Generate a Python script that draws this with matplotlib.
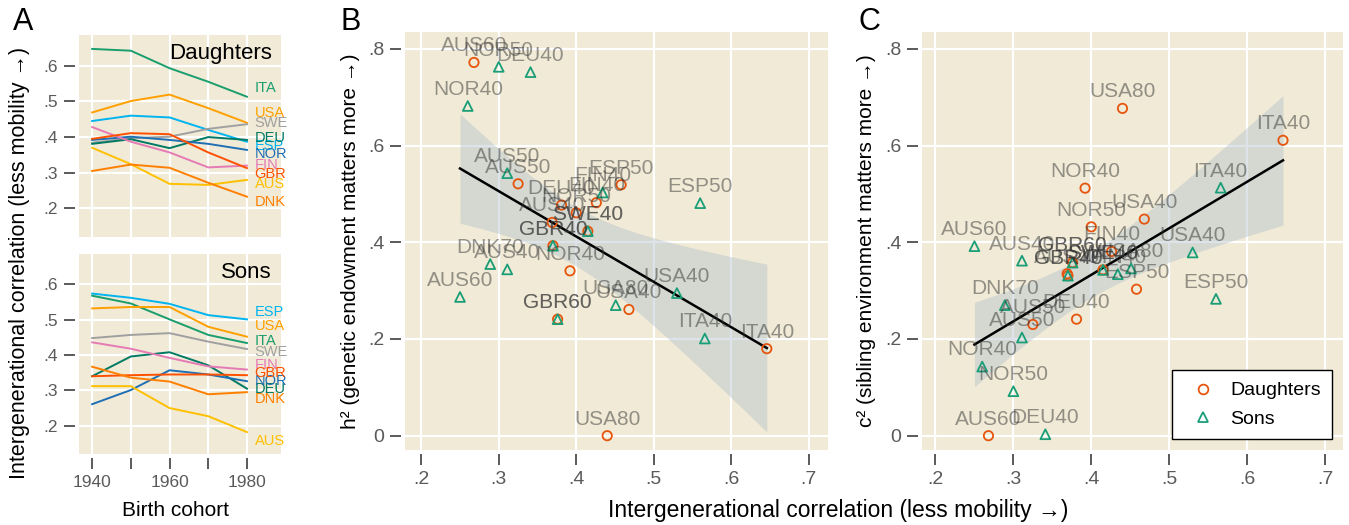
import numpy as np
import matplotlib
matplotlib.use("Agg")
import matplotlib.pyplot as plt
from matplotlib.lines import Line2D
from matplotlib.ticker import FuncFormatter

plt.rcParams['font.family'] = ['Liberation Sans', 'DejaVu Sans']

# ---------------- data ----------------
cohorts = [1940, 1950, 1960, 1970, 1980]
countries = ['ITA', 'USA', 'ESP', 'SWE', 'DEU', 'NOR', 'FIN', 'GBR', 'AUS', 'DNK']

# rows follow `countries`
rho_daughters = [
    [.647, .642, .593, .555, .513],   # ITA
    [.469, .501, .519, .481, .440],   # USA
    [.445, .460, .455, .420, .387],   # ESP
    [.384, .397, .401, .423, .436],   # SWE
    [.381, .394, .369, .400, .392],   # DEU
    [.392, .401, .392, .381, .364],   # NOR
    [.428, .387, .357, .315, .320],   # FIN
    [.395, .411, .408, .357, .313],   # GBR
    [.370, .324, .269, .266, .280],   # AUS
    [.305, .323, .314, .272, .233],   # DNK
]
rho_sons = [
    [.568, .546, .501, .457, .434],   # ITA
    [.532, .536, .536, .480, .452],   # USA
    [.574, .562, .545, .513, .501],   # ESP
    [.448, .457, .462, .438, .417],   # SWE
    [.340, .396, .408, .371, .305],   # DEU
    [.261, .301, .357, .345, .326],   # NOR
    [.436, .418, .392, .368, .359],   # FIN
    [.340, .343, .345, .345, .343],   # GBR
    [.312, .312, .250, .227, .182],   # AUS
    [.367, .336, .325, .289, .295],   # DNK
]

# panels B and C: daughters
d_names = ['AUS40', 'AUS50', 'AUS60', 'DEU40', 'ESP50', 'FIN40', 'GBR40',
           'GBR60', 'ITA40', 'NOR40', 'NOR50', 'SWE40', 'USA40', 'USA80']
d_rho = [.369, .325, .268, .381, .458, .426, .370, .376, .646, .392, .400, .415, .468, .440]
d_h2 = [.441, .521, .772, .477, .519, .482, .393, .241, .180, .341, .461, .423, .261, .000]
d_c2 = [.335, .230, .000, .241, .303, .381, .331, .358, .611, .512, .432, .343, .448, .677]

# panels B and C: sons
s_names = ['AUS40', 'AUS50', 'AUS60', 'DEU40', 'DNK70', 'ESP50', 'FIN40', 'GBR40',
           'GBR60', 'ITA40', 'NOR40', 'NOR50', 'SWE40', 'USA40', 'USA80']
s_rho = [.311, .311, .250, .341, .289, .560, .434, .370, .376, .566, .260, .300, .415, .530, .451]
s_h2 = [.344, .543, .287, .752, .355, .481, .503, .393, .241, .201, .682, .763, .423, .295, .270]
s_c2 = [.362, .203, .392, .003, .270, .283, .334, .331, .358, .513, .143, .092, .343, .379, .346]

# ---------------- style ----------------
BG = '#F0EAD6'
TICK = '#5a5a5a'
ORANGE = '#E6550D'
GREEN = '#1A9E77'
country_colors = {
    'ITA': '#1A9E6E', 'USA': '#FFA000', 'ESP': '#00B4F0', 'SWE': '#A0A0A0',
    'DEU': '#007A64', 'NOR': '#1F6FB4', 'FIN': '#E57AB4', 'GBR': '#FF5000',
    'AUS': '#FFC000', 'DNK': '#FF7F00',
}
# label heights at the right end of panel A (layout only)
lab_y_daughters = [.537, .467, .376, .440, .397, .352, .322, .297, .269, .218]
lab_y_sons = [.441, .483, .522, .410, .303, .326, .373, .348, .157, .275]


def dec_fmt(v, pos=None):
    if abs(v) < 1e-9:
        return '0'
    return ('%.1f' % v).lstrip('0')


def style_axes(ax, tick_size):
    ax.set_facecolor(BG)
    for s in ax.spines.values():
        s.set_visible(False)
    ax.spines['left'].set_position(('outward', 3))
    ax.spines['bottom'].set_position(('outward', 3))
    ax.grid(True, color='white', linewidth=1.6)
    ax.set_axisbelow(True)
    ax.tick_params(colors=TICK, labelcolor=TICK, length=8, width=1.4,
                   labelsize=tick_size, pad=4)


def fit_band(x, y, xs, t=2.052):
    x = np.asarray(x)
    y = np.asarray(y)
    n = len(x)
    b, a = np.polyfit(x, y, 1)
    resid = y - (a + b * x)
    s = np.sqrt(np.sum(resid ** 2) / (n - 2))
    xm = x.mean()
    se = s * np.sqrt(1.0 / n + (xs - xm) ** 2 / np.sum((x - xm) ** 2))
    pred = a + b * xs
    return pred, pred - t * se, pred + t * se


fig = plt.figure(figsize=(13.49, 5.25), dpi=100)
W, H = 1349.0, 525.0

axA1 = fig.add_axes([79 / W, 1 - 237 / H, 202 / W, 202 / H])
axA2 = fig.add_axes([79 / W, 1 - 454 / H, 202 / W, 200 / H])
axB = fig.add_axes([405 / W, 1 - 450 / H, 423 / W, 418 / H])
axC = fig.add_axes([922 / W, 1 - 450 / H, 421 / W, 418 / H])

# ---------------- panel A ----------------
for ax, rows, laby, title in [(axA1, rho_daughters, lab_y_daughters, 'Daughters'),
                              (axA2, rho_sons, lab_y_sons, 'Sons')]:
    style_axes(ax, 12.5)
    for c, vals, ly in zip(countries, rows, laby):
        ax.plot(cohorts, vals, color=country_colors[c], lw=1.4, zorder=3)
        ax.text(1982, ly, c, color=country_colors[c], fontsize=10.5,
                ha='left', va='center')
    ax.set_xlim(1936.6, 1988.8)
    ax.set_ylim(0.12, 0.686)
    ax.set_xticks(cohorts)
    ax.set_yticks([.2, .3, .4, .5, .6])
    ax.yaxis.set_major_formatter(FuncFormatter(dec_fmt))
    ax.text(0.955, 0.91, title, transform=ax.transAxes, ha='right', va='center',
            fontsize=16)

axA1.tick_params(axis='x', length=0, labelbottom=False)
axA2.set_xticklabels(['1940', '', '1960', '', '1980'])

fig.text(20 / W, 1 - 263 / H, 'Intergenerational correlation (less mobility \u2192)',
         rotation=90, ha='center', va='center', fontsize=15.5)
fig.text(175 / W, 1 - 511 / H, 'Birth cohort', ha='center', va='center', fontsize=15)

# ---------------- panels B and C ----------------
all_rho = np.array(d_rho + s_rho)
xs = np.linspace(all_rho.min(), all_rho.max(), 100)

for ax, d_y, s_y in [(axB, d_h2, s_h2), (axC, d_c2, s_c2)]:
    style_axes(ax, 14)
    all_y = np.array(d_y + s_y)
    pred, lo, hi = fit_band(all_rho, all_y, xs)
    ax.fill_between(xs, lo, hi, color='#B4C3CD', alpha=0.45, lw=0, zorder=1.5)
    ax.plot(xs, pred, color='black', lw=1.8, zorder=2)
    ax.scatter(d_rho, d_y, s=45, marker='o', facecolors='none', edgecolors=ORANGE,
               linewidths=1.3, zorder=3)
    ax.scatter(s_rho, s_y, s=50, marker='^', facecolors='none', edgecolors=GREEN,
               linewidths=1.3, zorder=3)
    for names, xv, yv in [(d_names, d_rho, d_y), (s_names, s_rho, s_y)]:
        for nm, xx, yy in zip(names, xv, yv):
            ax.annotate(nm, (xx, yy), xytext=(0, 12), textcoords='offset points',
                        ha='center', va='center', fontsize=15, color='#333333',
                        alpha=0.5, zorder=4)
    ax.set_ylim(-0.0296, 0.835)
    ax.set_xticks([.2, .3, .4, .5, .6, .7])
    ax.set_yticks([0, .2, .4, .6, .8])
    ax.xaxis.set_major_formatter(FuncFormatter(dec_fmt))
    ax.yaxis.set_major_formatter(FuncFormatter(dec_fmt))

axB.set_xlim(0.179, 0.725)
axC.set_xlim(0.1827, 0.723)

fig.text(350 / W, 1 - 241 / H, 'h\u00b2 (genetic endowment matters more \u2192)',
         rotation=90, ha='center', va='center', fontsize=15)
fig.text(866 / W, 1 - 241 / H, 'c\u00b2 (sibling environment matters more \u2192)',
         rotation=90, ha='center', va='center', fontsize=15)
fig.text(838 / W, 1 - 511 / H, 'Intergenerational correlation (less mobility \u2192)',
         ha='center', va='center', fontsize=16.5)

handles = [
    Line2D([], [], ls='none', marker='o', mfc='none', mec=ORANGE, mew=1.3, ms=7),
    Line2D([], [], ls='none', marker='^', mfc='none', mec=GREEN, mew=1.3, ms=7.5),
]
leg = axC.legend(handles, ['Daughters', 'Sons'], loc='lower right', fontsize=14,
                 frameon=True, fancybox=False, edgecolor='black', framealpha=1,
                 borderaxespad=0.55, handletextpad=0.4, borderpad=0.6,
                 labelspacing=0.55)
leg.get_frame().set_linewidth(1.0)

for lbl, x in [('A', 23), ('B', 351), ('C', 869)]:
    fig.text(x / W, 1 - 22 / H, lbl, ha='center', va='center', fontsize=22)

fig.savefig('out.png', dpi=100)
